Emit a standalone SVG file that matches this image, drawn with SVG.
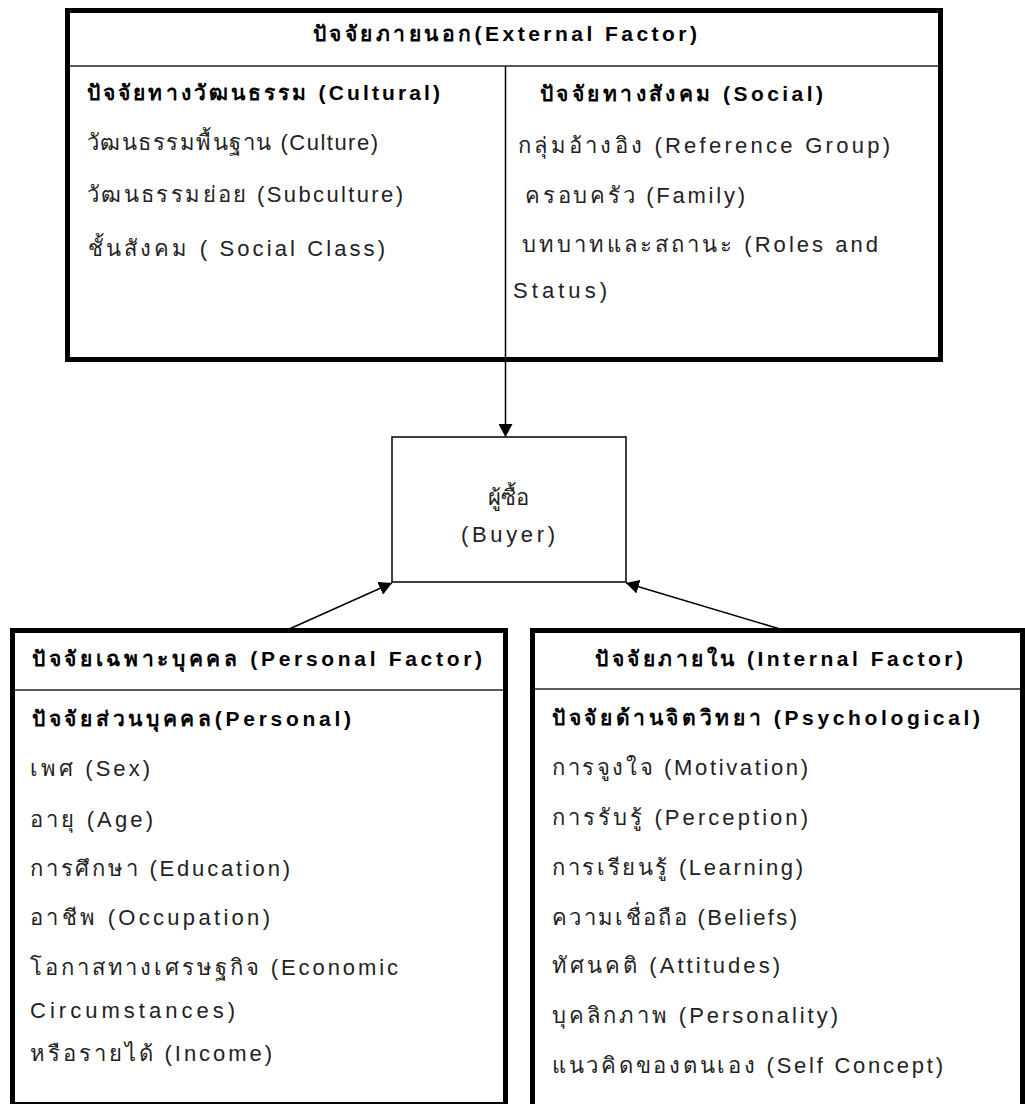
<svg xmlns="http://www.w3.org/2000/svg" width="1025" height="1104" viewBox="0 0 1025 1104">
<style>
.box{fill:#fff;stroke:#000;stroke-width:5}
.sep{stroke:#222;stroke-width:1.5;fill:none}
.t{font-family:"Liberation Sans","Noto Sans",sans-serif;font-size:22px;fill:#222}
.b{font-family:"Liberation Sans","Noto Sans",sans-serif;font-size:21px;font-weight:bold;fill:#000}
.c{text-anchor:middle}
.conn{stroke:#000;stroke-width:1.5;fill:none}
</style>
<defs>
<marker id="ah" markerUnits="userSpaceOnUse" markerWidth="14" markerHeight="14" refX="13" refY="7" orient="auto">
<path d="M0,0 L13,7 L0,14 z" fill="#000"/>
</marker>
</defs>
<rect width="1025" height="1104" fill="#fff"/>

<g id="external">
<rect class="box" x="67.5" y="10.5" width="873" height="349"/>
<line class="sep" x1="70" y1="66" x2="938" y2="66"/>
<text class="b c" x="505" y="41" textLength="384">ปัจจัยภายนอก(External Factor)</text>
<text class="b" x="87" y="100" textLength="353">ปัจจัยทางวัฒนธรรม (Cultural)</text>
<text class="t" x="87" y="150" textLength="291">วัฒนธรรมพื้นฐาน (Culture)</text>
<text class="t" x="87" y="202" textLength="316">วัฒนธรรมย่อย (Subculture)</text>
<text class="t" x="88" y="256" textLength="297">ชั้นสังคม ( Social Class)</text>
<text class="b" x="540" y="101" textLength="283">ปัจจัยทางสังคม (Social)</text>
<text class="t" x="518" y="153" textLength="372">กลุ่มอ้างอิง (Reference Group)</text>
<text class="t" x="525" y="203" textLength="220">ครอบครัว (Family)</text>
<text class="t" x="522" y="252" textLength="356">บทบาทและสถานะ (Roles and</text>
<text class="t" x="513" y="298" textLength="94">Status)</text>
</g>

<g id="buyer">
<rect x="392" y="437" width="234" height="145" fill="#fff" stroke="#000" stroke-width="1.5"/>
<text class="t c" x="508" y="505">ผู้ซื้อ</text>
<text class="t c" x="508" y="542" textLength="94">(Buyer)</text>
</g>

<g id="personal">
<rect class="box" x="12.5" y="630.5" width="493" height="474"/>
<line class="sep" x1="15" y1="690" x2="503" y2="690"/>
<text class="b" x="32" y="666" textLength="450">ปัจจัยเฉพาะบุคคล (Personal Factor)</text>
<text class="b" x="32" y="726" textLength="319">ปัจจัยส่วนบุคคล(Personal)</text>
<text class="t" x="30" y="776" textLength="120">เพศ (Sex)</text>
<text class="t" x="30" y="827" textLength="123">อายุ (Age)</text>
<text class="t" x="30" y="876" textLength="260">การศึกษา (Education)</text>
<text class="t" x="30" y="925" textLength="240">อาชีพ (Occupation)</text>
<text class="t" x="30" y="975" textLength="368">โอกาสทางเศรษฐกิจ (Economic</text>
<text class="t" x="30" y="1018" textLength="205">Circumstances)</text>
<text class="t" x="30" y="1061" textLength="242">หรือรายได้ (Income)</text>
</g>

<g id="internal">
<rect class="box" x="532.5" y="630.5" width="490" height="500"/>
<line class="sep" x1="535" y1="689" x2="1020" y2="689"/>
<text class="b" x="595" y="666" textLength="368">ปัจจัยภายใน (Internal Factor)</text>
<text class="b" x="552" y="725" textLength="428">ปัจจัยด้านจิตวิทยา (Psychological)</text>
<text class="t" x="552" y="775" textLength="256">การจูงใจ (Motivation)</text>
<text class="t" x="552" y="825" textLength="256">การรับรู้ (Perception)</text>
<text class="t" x="552" y="875" textLength="251">การเรียนรู้ (Learning)</text>
<text class="t" x="552" y="925" textLength="245">ความเชื่อถือ (Beliefs)</text>
<text class="t" x="552" y="973" textLength="228">ทัศนคติ (Attitudes)</text>
<text class="t" x="552" y="1023" textLength="286">บุคลิกภาพ (Personality)</text>
<text class="t" x="552" y="1073" textLength="391">แนวคิดของตนเอง (Self Concept)</text>
</g>

<g id="connectors">
<line class="conn" x1="505.5" y1="66" x2="505.5" y2="437" marker-end="url(#ah)"/>
<line class="conn" x1="287" y1="630" x2="392" y2="583" marker-end="url(#ah)"/>
<line class="conn" x1="780" y1="629" x2="626" y2="583" marker-end="url(#ah)"/>
</g>
</svg>
